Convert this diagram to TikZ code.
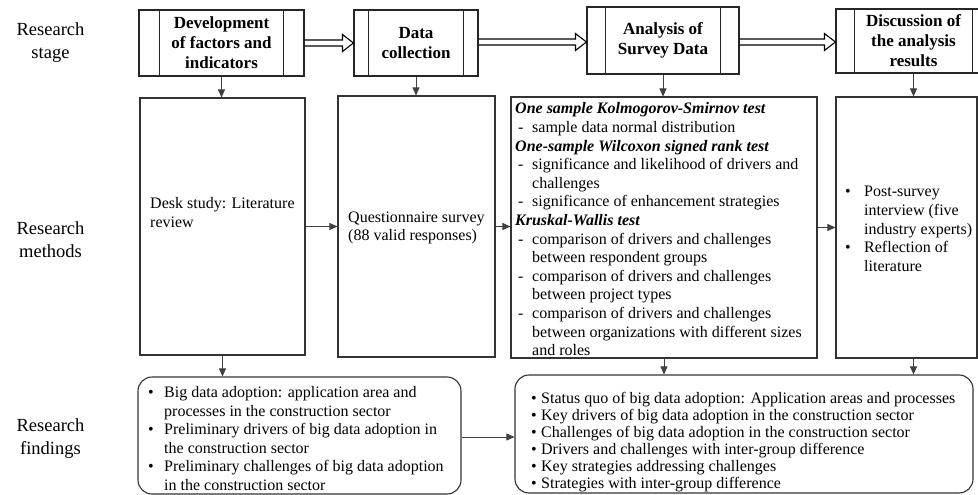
\documentclass[tikz,border=0pt]{standalone}
\usepackage{fontspec}
\setmainfont{Liberation Serif}
\usetikzlibrary{arrows.meta,calc}
\newcommand{\cdashitem}{\makebox[17pt][l]{\hspace{3pt}-}}
\newcommand{\cindent}{\hspace*{17pt}}
\begin{document}
\begin{tikzpicture}[x=1pt,y=-1pt,
  stagebox/.style={draw=black!85, line width=1.1pt, fill=white, inner sep=0pt,
    font=\fontsize{17}{20}\selectfont\bfseries, align=center},
  barline/.style={draw=black!85, line width=1.1pt},
  methodbox/.style={draw=black!80, line width=1.1pt, inner sep=0pt},
  findbox/.style={draw=black!80, line width=1.1pt, rounded corners=14pt, inner sep=0pt},
  conn/.style={draw=black!75, line width=0.7pt, -{Triangle[length=8pt,width=7pt]}},
  hollowarrow/.style={draw=black, line width=1.1pt, line join=miter},
  rowlabel/.style={font=\fontsize{18.5}{23}\selectfont, align=center},
  body/.style={font=\fontsize{16}{18.8}\selectfont, align=left, inner sep=0pt},
  ]
\useasboundingbox (0,0) rectangle (978,495);
\clip (0,0) rectangle (978,495);

% row labels
\node[rowlabel] (lstage) at (50.5,43) {Research\\stage};
\node[rowlabel] (lmeth) at (50.5,240) {Research\\methods};
\node[rowlabel] (lfind) at (50.5,439) {Research\\findings};

% stage boxes
\node[stagebox, minimum width=165, minimum height=66] (s1) at (221.5,43) {Development\\of factors and\\indicators};
\node[stagebox, minimum width=124, minimum height=66] (s2) at (416,43) {Data\\collection};
\node[stagebox, minimum width=152, minimum height=67] (s3) at (663,40.5) {Analysis of\\Survey Data};
\node[stagebox, minimum width=155, minimum height=64] (s4) at (913.5,41) {Discussion of\\the analysis\\results};
\draw[barline] ([xshift=21pt]s1.north west) -- ([xshift=21pt]s1.south west);
\draw[barline] ([xshift=-21pt]s1.north east) -- ([xshift=-21pt]s1.south east);
\draw[barline] ([xshift=15pt]s2.north west) -- ([xshift=15pt]s2.south west);
\draw[barline] ([xshift=-15pt]s2.north east) -- ([xshift=-15pt]s2.south east);
\draw[barline] ([xshift=19pt]s3.north west) -- ([xshift=19pt]s3.south west);
\draw[barline] ([xshift=-19pt]s3.north east) -- ([xshift=-19pt]s3.south east);
\draw[barline] ([xshift=19pt]s4.north west) -- ([xshift=19pt]s4.south west);
\draw[barline] ([xshift=-19pt]s4.north east) -- ([xshift=-19pt]s4.south east);

% hollow block arrows between stages
\coordinate (a1s) at (s1.east);
\coordinate (a1e) at (s2.west);
\coordinate (a2s) at ($(s2.east)+(0,-1)$);
\coordinate (a2e) at ($(s2.east -| s3.west)+(0,-1)$);
\coordinate (a3s) at ($(s3.east)+(0,1.5)$);
\coordinate (a3e) at ($(s3.east -| s4.west)+(0,1.5)$);
\foreach \st/\en in {a1s/a1e, a2s/a2e, a3s/a3e}{
  \draw[hollowarrow] ($(\st)+(0,-3)$) -- ($(\en)+(-11,-3)$) -- ($(\en)+(-11,-8.5)$)
    -- (\en) -- ($(\en)+(-11,8.5)$) -- ($(\en)+(-11,3)$) -- ($(\st)+(0,3)$);
}

% method boxes
\node[methodbox, minimum width=165, minimum height=257] (A) at (222.5,226.5) {};
\node[methodbox, minimum width=157, minimum height=261] (B) at (416.5,226.5) {};
\node[methodbox, minimum width=306, minimum height=261] (C) at (664,227.5) {};
\node[methodbox, minimum width=141, minimum height=261] (D) at (906.5,227.5) {};

\node[body, anchor=west] (Atext) at (150,212.5) {Desk study: Literature\\review};
\node[body, anchor=west] (Btext) at (348,228) {Questionnaire survey\\(88 valid responses)};
\node[body, anchor=north west, font=\fontsize{16}{18.6}\selectfont] (Ctext) at (515,102.5) {%
\textbf{\textit{One sample Kolmogorov-Smirnov test}}\\
\cdashitem sample data normal distribution\\
\textbf{\textit{One-sample Wilcoxon signed rank test}}\\
\cdashitem significance and likelihood of drivers and\\
\cindent challenges\\
\cdashitem significance of enhancement strategies\\
\textbf{\textit{Kruskal-Wallis test}}\\
\cdashitem comparison of drivers and challenges\\
\cindent between respondent groups\\
\cdashitem comparison of drivers and challenges\\
\cindent between project types\\
\cdashitem comparison of drivers and challenges\\
\cindent between organizations with different sizes\\
\cindent and roles};
\node[body, anchor=west] (Dtext) at (845,229) {%
\makebox[19pt][l]{•}Post-survey\\
\hspace*{19pt}interview (five\\
\hspace*{19pt}industry experts)\\
\makebox[19pt][l]{•}Reflection of\\
\hspace*{19pt}literature};

% findings boxes
\node[findbox, minimum width=323, minimum height=117] (F1) at (299.5,435.5) {};
\node[findbox, minimum width=458, minimum height=118] (F2) at (744,434) {};

\node[body, anchor=west, font=\fontsize{16}{18.5}\selectfont] (F1text) at (148,438.5) {%
\makebox[16pt][l]{•}Big data adoption: application area and\\
\hspace*{16pt}processes in the construction sector\\
\makebox[16pt][l]{•}Preliminary drivers of big data adoption in\\
\hspace*{16pt}the construction sector\\
\makebox[16pt][l]{•}Preliminary challenges of big data adoption\\
\hspace*{16pt}in the construction sector};
\node[body, anchor=west, font=\fontsize{16}{17}\selectfont] (F2text) at (531,442.5) {%
\makebox[10pt][l]{•}Status quo of big data adoption: Application areas and processes\\
\makebox[10pt][l]{•}Key drivers of  big data adoption in the construction sector\\
\makebox[10pt][l]{•}Challenges of big data adoption in the construction sector\\
\makebox[10pt][l]{•}Drivers and challenges with inter-group difference\\
\makebox[10pt][l]{•}Key strategies addressing challenges\\
\makebox[10pt][l]{•}Strategies with inter-group difference};

% connectors
\draw[conn] (s1.south) -- (s1.south |- A.north);
\draw[conn] (s2.south) -- (s2.south |- B.north);
\draw[conn] (s3.south) -- (s3.south |- C.north);
\draw[conn] (s4.south) -- (s4.south |- D.north);
\draw[conn] (A.east) -- (A.east -| B.west);
\draw[conn] (B.east) -- (B.east -| C.west);
\draw[conn] (C.east) -- (C.east -| D.west);
\draw[conn] (A.south) -- (A.south |- F1.north);
\draw[conn] (C.south) -- (C.south |- F2.north);
\draw[conn] (s4.south |- D.south) -- (s4.south |- F2.north);
\draw[conn] ($(F1.east)+(0,1.5)$) -- ($(F1.east -| F2.west)+(0,1.5)$);
\end{tikzpicture}
\end{document}
